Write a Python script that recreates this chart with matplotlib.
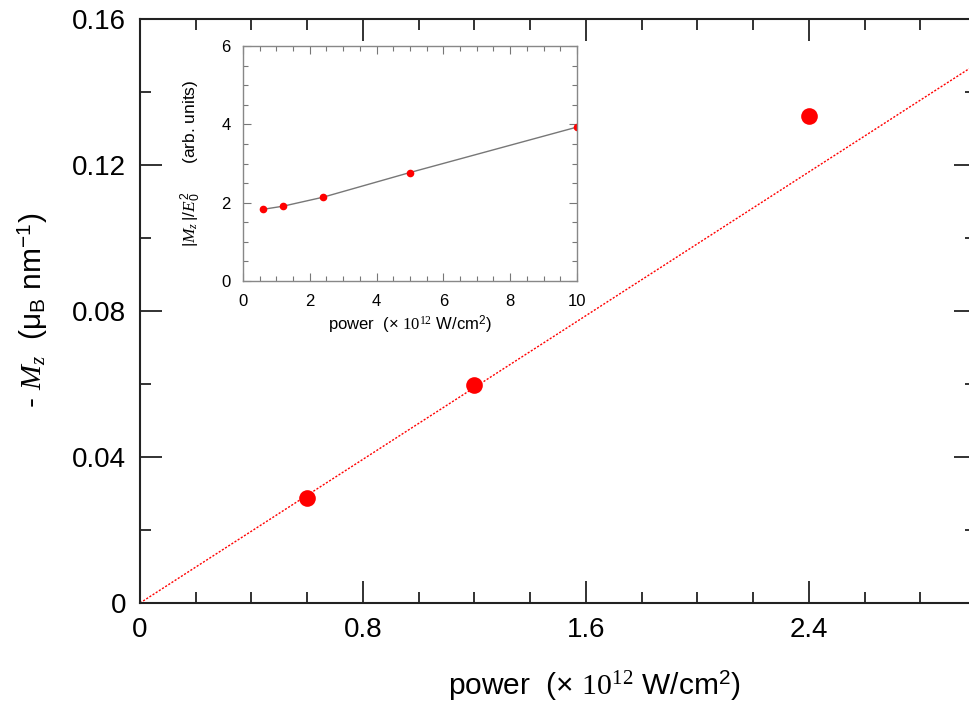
import numpy as np
import matplotlib
matplotlib.use("Agg")
import matplotlib.pyplot as plt
from matplotlib.ticker import MultipleLocator

plt.rcParams["font.family"] = ["Liberation Sans", "DejaVu Sans"]
plt.rcParams["mathtext.fontset"] = "custom"
plt.rcParams["mathtext.rm"] = "Liberation Sans"
plt.rcParams["mathtext.it"] = "Liberation Serif:italic"
plt.rcParams["mathtext.cal"] = "Liberation Serif"

# ── Data ──────────────────────────────────────────────────────────────────────
power_main = [0.6, 1.2, 2.4]
mz_main    = [0.0288, 0.0597, 0.1334]
fit_slope  = 0.0492          # linear fit through origin
fit_x      = [0.0, 3.0]

power_inset = [0.6, 1.2, 2.4, 5.0, 10.0]
mz_norm     = [1.83, 1.91, 2.14, 2.77, 3.93]

XLABEL = r"power  (× $\mathcal{10^{12}}$ W/cm$^2$)"

# ── Figure ────────────────────────────────────────────────────────────────────
fig = plt.figure(figsize=(9.7, 7.06), dpi=100)
ax = fig.add_axes([140 / 970, 103 / 706, 836 / 970, 584 / 706])

fx = np.array(fit_x)
ax.plot(fx, fit_slope * fx, color="red", linestyle=(0, (1.5, 1.2)), linewidth=1.0)
ax.plot(power_main, mz_main, "o", color="red", markersize=12, markeredgewidth=0)

ax.set_xlim(0, 3.0)
ax.set_ylim(0, 0.16)
ax.xaxis.set_major_locator(MultipleLocator(0.8))
ax.xaxis.set_minor_locator(MultipleLocator(0.2))
ax.yaxis.set_major_locator(MultipleLocator(0.04))
ax.yaxis.set_minor_locator(MultipleLocator(0.02))
ax.set_xticks([0, 0.8, 1.6, 2.4])
ax.set_xticklabels(["0", "0.8", "1.6", "2.4"])
ax.set_yticks([0, 0.04, 0.08, 0.12, 0.16])
ax.set_yticklabels(["0", "0.04", "0.08", "0.12", "0.16"])
ax.tick_params(which="both", direction="in", top=True, right=True,
               labelsize=20, color="#222222", width=1.3)
ax.tick_params(which="major", length=16, pad=10)
ax.tick_params(which="minor", length=8)
for s in ax.spines.values():
    s.set_linewidth(1.5)
    s.set_color("#222222")

ax.set_xlabel(XLABEL, fontsize=21.5)
ax.xaxis.set_label_coords(0.544, -0.113)
ax.set_ylabel(r"- $M_z$  (μ$_\mathrm{B}$ nm$^{-1}$)", fontsize=21.5)
ax.yaxis.set_label_coords(-0.108, 0.502)

# ── Inset ─────────────────────────────────────────────────────────────────────
ins = fig.add_axes([243 / 970, (706 - 281) / 706, 334 / 970, 235 / 706])
ins.plot(power_inset, mz_norm, color="#777777", linewidth=1.0)
ins.plot(power_inset, mz_norm, "o", color="red", markersize=5.5, markeredgewidth=0)
ins.set_xlim(0, 10)
ins.set_ylim(0, 6)
ins.xaxis.set_major_locator(MultipleLocator(2))
ins.xaxis.set_minor_locator(MultipleLocator(0.5))
ins.yaxis.set_major_locator(MultipleLocator(2))
ins.yaxis.set_minor_locator(MultipleLocator(0.5))
ins.tick_params(which="both", direction="in", top=True, right=True,
                labelsize=12, color="#777777", width=0.8)
ins.tick_params(which="major", length=6, pad=9)
ins.tick_params(which="minor", length=3.5)
for s in ins.spines.values():
    s.set_linewidth(1.0)
    s.set_color("#888888")
ins.set_xlabel(XLABEL, fontsize=12)
ins.xaxis.set_label_coords(0.5, -0.14)
ins.set_ylabel(r"$|M_z\,|/E_0^2$      (arb. units)", fontsize=12.5)
ins.yaxis.set_label_coords(-0.12, 0.5)

fig.savefig("out.png", dpi=100)
